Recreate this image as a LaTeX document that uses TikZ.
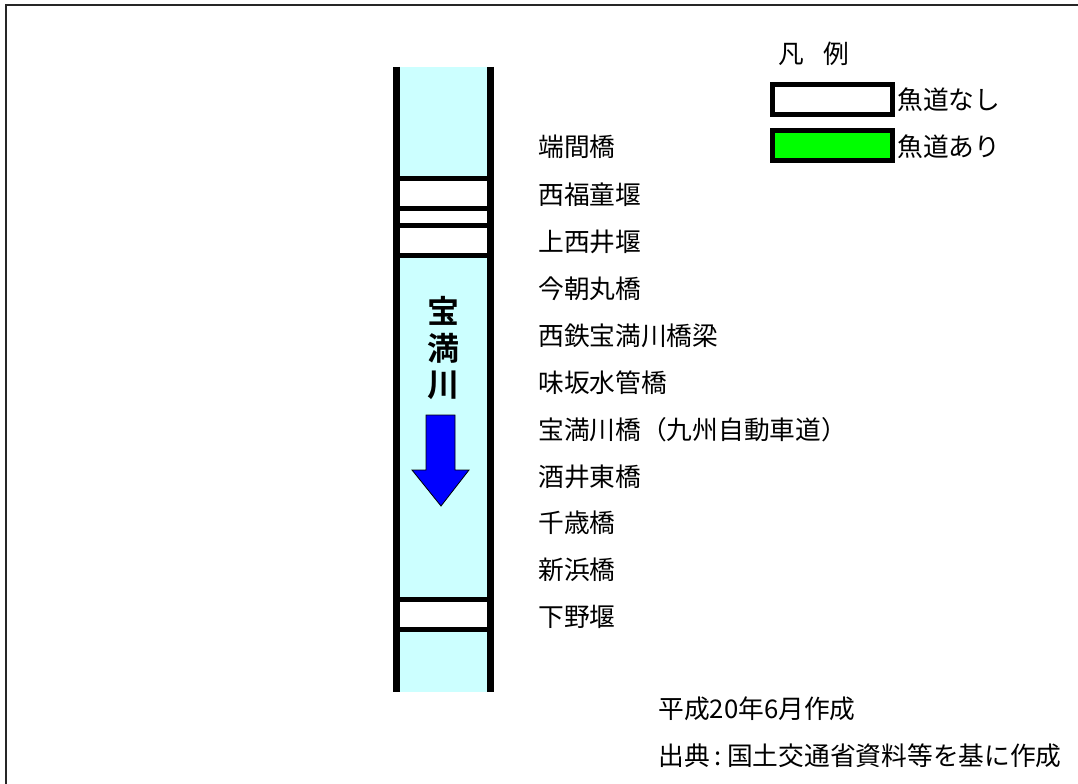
\documentclass[tikz,border=0pt]{standalone}
\usepackage{fontspec}
\setmainfont{Noto Sans CJK JP}[BoldFont={Noto Sans CJK JP Bold}]
\usepackage{tikz}
\usetikzlibrary{positioning}
\definecolor{rivercyan}{RGB}{204,255,255}
\definecolor{passgreen}{RGB}{0,255,0}

\begin{document}
\begin{tikzpicture}[x=0.75pt, y=-0.75pt, line cap=butt, line join=miter,
    site/.style={anchor=west, inner sep=0pt, font=\fontsize{19.3}{21}\selectfont},
    rivername/.style={inner sep=0pt, font=\fontsize{24}{26}\selectfont\bfseries},
    weir/.style={line width=3.75pt},
    legendbox/.style={draw, line width=3.75pt}]
            % page size and frame
            \useasboundingbox (0,0) rectangle (1078,784);
            \draw[line width=1.5pt, black!85] (6,790) -- (6,5) -- (1090,5);

            % river channel
            \fill[rivercyan] (396,67) rectangle (491,692);
            \draw[line width=5.25pt] (396.5,67) -- (396.5,692);
            \draw[line width=5.25pt] (490.5,67) -- (490.5,692);

            % weirs without fishway (white bands)
            \fill[white] (400,178.5) rectangle (487,255.5);
            \draw[weir] (400,178.5) -- (487,178.5);
            \draw[weir] (400,208.5) -- (487,208.5);
            \draw[weir] (400,225.5) -- (487,225.5);
            \draw[weir] (400,255.5) -- (487,255.5);
            \fill[white] (400,599.5) rectangle (487,629.5);
            \draw[weir] (400,599.5) -- (487,599.5);
            \draw[weir] (400,629.5) -- (487,629.5);

            % river name
            \node[rivername] (nameA) at (443,311) {宝};
            \node[rivername] (nameB) at (443,348) {満};
            \node[rivername] (nameC) at (443,385) {川};

            % flow direction
            \filldraw[fill=blue, draw=black, line width=0.6pt]
                (426,415) -- (455,415) -- (455,470) -- (469,470) -- (441,506)
                -- (412,470) -- (426,470) -- cycle;

            % crossing structures
            \node[site] (s1)  at (538,147) {端間橋};
            \node[site] (s2)  at (538,195) {西福童堰};
            \node[site] (s3)  at (538,242) {上西井堰};
            \node[site] (s4)  at (538,289) {今朝丸橋};
            \node[site] (s5)  at (538,336) {西鉄宝満川橋梁};
            \node[site] (s6)  at (538,383) {味坂水管橋};
            \node[site] (s7)  at (538,430) {宝満川橋（九州自動車道）};
            \node[site] (s8)  at (538,477) {酒井東橋};
            \node[site] (s9)  at (538,523) {千歳橋};
            \node[site] (s10) at (538,570) {新浜橋};
            \node[site] (s11) at (538,617) {下野堰};

            % legend
            \node[site] (legend) at (778,54) {凡\hspace{0.75em}例};
            \draw[legendbox, fill=white] (772.5,84.5) rectangle (892.5,114.5);
            \node[site] (noway) at (897,100) {魚道なし};
            \draw[legendbox, fill=passgreen] (772.5,130.5) rectangle (892.5,160.5);
            \node[site] (way) at (897,147) {魚道あり};

            % date and source
            \node[site] (date) at (658,709) {平成20年6月作成};
            \node[site] (src) at (658,756) {出典\hspace{0.2em}:\hspace{0.2em}国土交通省資料等を基に作成};
        \end{tikzpicture}
\end{document}
